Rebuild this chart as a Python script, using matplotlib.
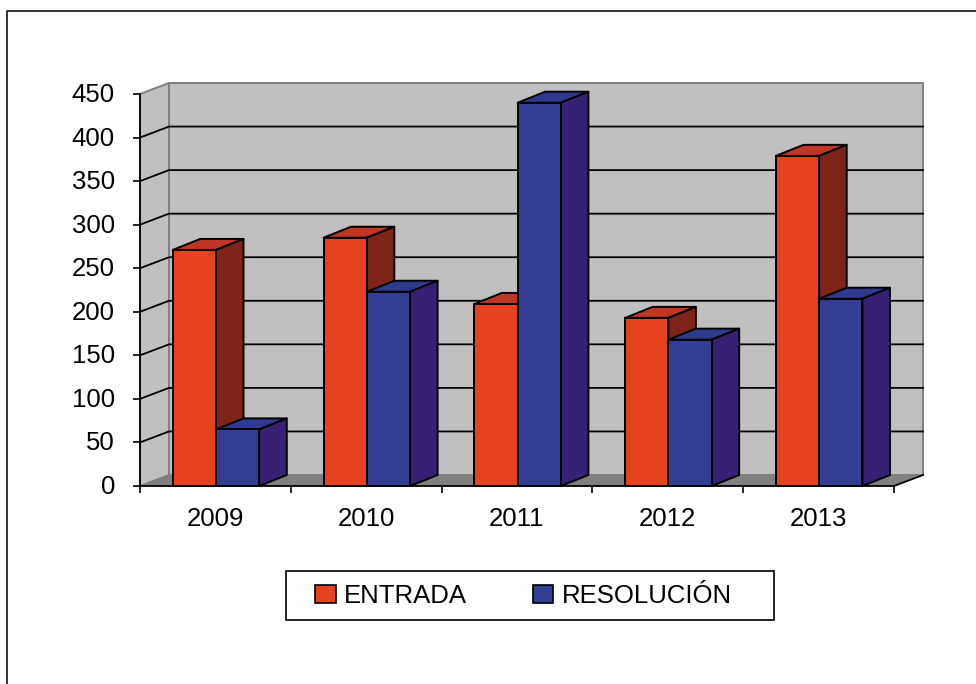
import matplotlib
matplotlib.use("Agg")
import matplotlib.pyplot as plt
from matplotlib.patches import Polygon, Rectangle
from matplotlib.lines import Line2D
from matplotlib.transforms import ScaledTranslation

plt.rcParams['font.family'] = ['Liberation Sans', 'DejaVu Sans']

years = ['2009', '2010', '2011', '2012', '2013']
entrada = [271, 285, 209, 193, 379]
resolucion = [65, 223, 440, 168, 215]
y_ticks = [0, 50, 100, 150, 200, 250, 300, 350, 400, 450]

W, H = 976, 684
x0, x1, ytop, ybot = 140, 894, 94, 486
FS = 18.5
fig = plt.figure(figsize=(W / 100, H / 100), dpi=100)
ax = fig.add_axes([x0 / W, 1 - ybot / H, (x1 - x0) / W, (ybot - ytop) / H])
ax.set_xlim(0, len(years))
ax.set_ylim(0, 450)

DX = 29 / ((x1 - x0) / len(years))
DY = 11 / ((ybot - ytop) / 450)
BDX = 27.5 / ((x1 - x0) / len(years))
BW = 0.287
WALL, FLOOR, EDGE = '#C0C0C0', '#808080', '#808080'
n = len(years)

def poly(pts, fc, ec='black', lw=1.4, z=2):
    ax.add_patch(Polygon(pts, closed=True, facecolor=fc, edgecolor=ec, linewidth=lw,
                         zorder=z, clip_on=False, joinstyle='round'))

# walls and floor
poly([(DX, DY), (n + DX, DY), (n + DX, 450 + DY), (DX, 450 + DY)], WALL, EDGE, 1.4, 1)
poly([(0, 0), (DX, DY), (DX, 450 + DY), (0, 450)], WALL, EDGE, 1.4, 1)
poly([(0, 0), (n, 0), (n + DX, DY), (DX, DY)], FLOOR, 'none', 0, 1.1)
ax.plot([n, n + DX], [0, DY], color='black', lw=1.3, clip_on=False, zorder=1.2)

# gridlines on side and back wall
for v in y_ticks[1:-1]:
    ax.plot([0, DX, n + DX], [v, v + DY, v + DY], color='black', lw=1.3,
            clip_on=False, zorder=1.2)

def bar3d(x, v, front, top, side, z):
    ax.bar(x, v, width=BW, align='edge', color=front, edgecolor='black', linewidth=1.4,
           zorder=z + 0.2, clip_on=False)
    poly([(x, v), (x + BDX, v + DY), (x + BW + BDX, v + DY), (x + BW, v)], top, z=z)
    poly([(x + BW, 0), (x + BW + BDX, DY), (x + BW + BDX, v + DY), (x + BW, v)], side, z=z)

RED = ('#E5431F', '#BF3624', '#7F2418')
BLUE = ('#333D91', '#2F3A8F', '#372174')
for i in range(n):
    bar3d(i + 0.217, entrada[i], *RED, z=3 + 2 * i)
    bar3d(i + 0.504, resolucion[i], *BLUE, z=4 + 2 * i)

# axes
for s in ('top', 'right'):
    ax.spines[s].set_visible(False)
for s in ('left', 'bottom'):
    ax.spines[s].set_linewidth(1.3)
    ax.spines[s].set_zorder(30)
ax.patch.set_visible(False)
ax.set_yticks(y_ticks)
ax.tick_params(axis='y', length=5, width=1.2, pad=13, labelsize=FS)
up = ScaledTranslation(0, 1.5 / 100, fig.dpi_scale_trans)
for lab in ax.get_yticklabels():
    lab.set_transform(lab.get_transform() + up)
ax.set_xticks(range(n + 1))
ax.set_xticklabels([])
ax.tick_params(axis='x', which='major', length=5, width=1.2)
ax.set_xticks([i + 0.5 for i in range(n)], minor=True)
ax.set_xticklabels(years, minor=True)
ax.tick_params(axis='x', which='minor', length=0, pad=15, labelsize=FS)

# legend box and entries
fig.add_artist(Rectangle((285.5 / W, 1 - 620 / H), 488 / W, 49 / H, transform=fig.transFigure,
                         facecolor='white', edgecolor='black', linewidth=1.2))
handles = [Rectangle((0, 0), 1, 1, facecolor=RED[0], edgecolor='black', linewidth=1.2),
           Rectangle((0, 0), 1, 1, facecolor=BLUE[0], edgecolor='black', linewidth=1.2)]
leg = fig.legend(handles, ['ENTRADA', 'RESOLUCIÓN'], ncol=2, fontsize=FS, frameon=False,
                 loc='center', bbox_to_anchor=(523.5 / W, 1 - 596 / H),
                 handlelength=0.8, handleheight=0.72, handletextpad=0.33, columnspacing=2.56,
                 borderpad=0, borderaxespad=0, labelspacing=0)

# outer frame
fig.add_artist(Line2D([7 / W, 7 / W, 1], [0, 1 - 11 / H, 1 - 11 / H], color='#222222', lw=1.3))

fig.savefig('out.png', dpi=100)
